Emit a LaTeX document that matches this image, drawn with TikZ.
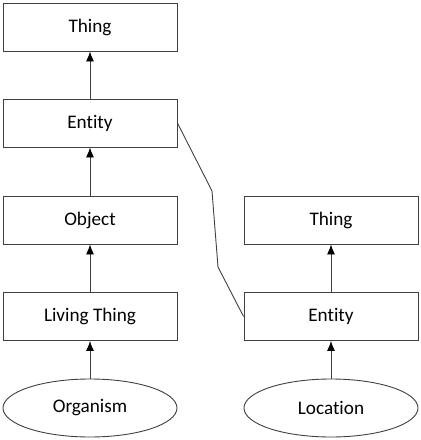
\documentclass[tikz,border=0pt]{standalone}
\usepackage{fontspec}
\setmainfont{Carlito}[Ligatures=NoCommon]
\usetikzlibrary{shapes.geometric,arrows.meta}
\begin{document}
\begin{tikzpicture}[x=1pt,y=-1pt,
  box/.style={draw=black!75,line width=0.9pt,minimum width=174pt,minimum height=48pt,inner sep=0pt,font=\fontsize{19.2}{21}\selectfont,text=black},
  oval/.style={draw=black!75,line width=0.9pt,ellipse,minimum width=174pt,minimum height=58pt,inner sep=0pt,font=\fontsize{19.2}{21}\selectfont,text=black},
  conn/.style={draw=black!75,line width=0.9pt,-{Latex[length=10pt,width=8pt,fill=black,color=black]}},
  plain/.style={draw=black!75,line width=0.9pt}]
\useasboundingbox (0,0) rectangle (421,440);
\node[box] (thing1) at (90,27) {Thing};
\node[box] (entity1) at (90,123) {Entity};
\node[box] (object) at (90,220) {Object};
\node[box] (living) at (90,316.5) {Living Thing};
\node[oval] (organism) at (90,408) {Organism};
\node[box] (thing2) at (331,220) {Thing};
\node[box] (entity2) at (331,316.5) {Entity};
\node[oval] (location) at (331,408) {Location};
\coordinate (b1) at (212,191);
\coordinate (b2) at (218,267);
\draw[conn] (entity1) -- (thing1);
\draw[conn] (object) -- (entity1);
\draw[conn] (living) -- (object);
\draw[conn] (organism) -- (living);
\draw[conn] (entity2) -- (thing2);
\draw[conn] (location) -- (entity2);
\draw[plain] (entity1.east) -- (b1) -- (b2) -- (entity2.west);
\end{tikzpicture}
\end{document}
